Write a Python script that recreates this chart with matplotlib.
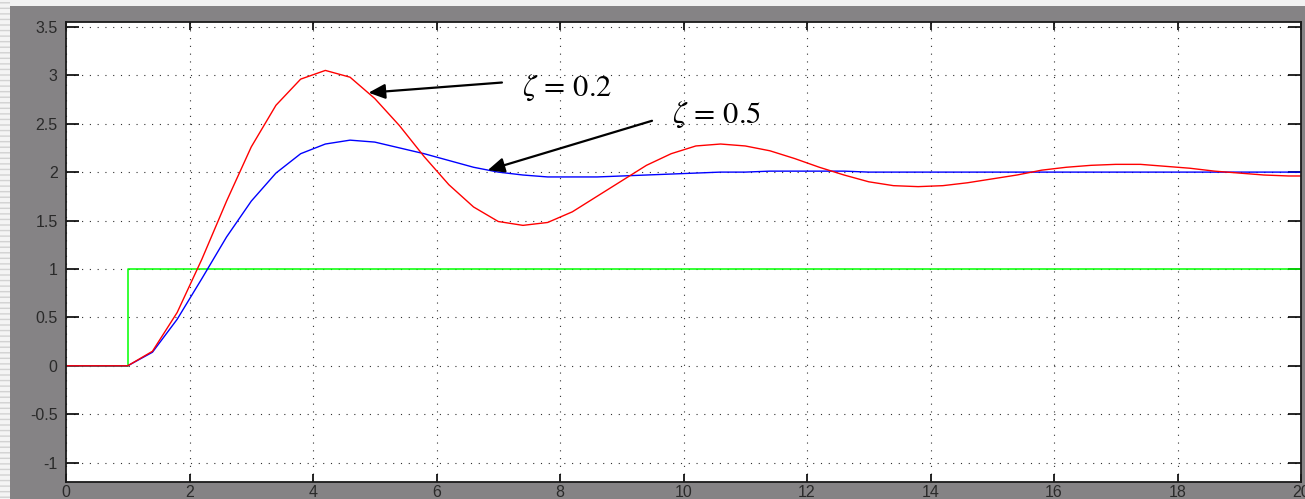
import matplotlib
matplotlib.use("Agg")
import matplotlib.pyplot as plt
from matplotlib.patches import Rectangle

# step input
step_t = [0.0, 1.0, 1.0, 20.0]
step_y = [0.0, 0.0, 1.0, 1.0]

# sample times of the two responses
t = [0.0, 1.0, 1.4, 1.8, 2.2, 2.6, 3.0, 3.4, 3.8, 4.2, 4.6, 5.0, 5.4, 5.8,
     6.2, 6.6, 7.0, 7.4, 7.8, 8.2, 8.6, 9.0, 9.4, 9.8, 10.2, 10.6, 11.0,
     11.4, 11.8, 12.2, 12.6, 13.0, 13.4, 13.8, 14.2, 14.6, 15.0, 15.4,
     15.8, 16.2, 16.6, 17.0, 17.4, 17.8, 18.2, 18.6, 19.0, 19.4, 19.8, 20.0]

# zeta = 0.2
y_02 = [0.0, 0.0, 0.15, 0.55, 1.10, 1.70, 2.26, 2.69, 2.96, 3.05, 2.98,
        2.76, 2.48, 2.16, 1.87, 1.64, 1.49, 1.45, 1.48, 1.59, 1.75, 1.91,
        2.07, 2.19, 2.27, 2.29, 2.27, 2.22, 2.14, 2.05, 1.97, 1.90, 1.86,
        1.85, 1.86, 1.89, 1.93, 1.97, 2.02, 2.05, 2.07, 2.08, 2.08, 2.06,
        2.04, 2.01, 1.99, 1.97, 1.96, 1.96]

# zeta = 0.5
y_05 = [0.0, 0.0, 0.14, 0.48, 0.90, 1.33, 1.70, 1.99, 2.19, 2.29, 2.33,
        2.31, 2.25, 2.19, 2.12, 2.05, 2.00, 1.97, 1.95, 1.95, 1.95, 1.96,
        1.97, 1.98, 1.99, 2.00, 2.00, 2.01, 2.01, 2.01, 2.01, 2.00, 2.00,
        2.00, 2.00, 2.00, 2.00, 2.00, 2.00, 2.00, 2.00, 2.00, 2.00, 2.00,
        2.00, 2.00, 2.00, 2.00, 2.00, 2.00]

xticks = [0, 2, 4, 6, 8, 10, 12, 14, 16, 18, 20]
yticks = [-1, -0.5, 0, 0.5, 1, 1.5, 2, 2.5, 3, 3.5]
ytick_labels = ["-1", "-0.5", "0", "0.5", "1", "1.5", "2", "2.5", "3", "3.5"]

plt.rcParams["mathtext.fontset"] = "stix"
plt.rcParams["font.family"] = ["Liberation Sans", "DejaVu Sans"]

fig = plt.figure(figsize=(13.05, 4.99), dpi=100, facecolor="#858385")
# light window strips at top and left
fig.patches.append(Rectangle((0, 1 - 6 / 499), 1, 6 / 499, transform=fig.transFigure,
                             facecolor="#f2f2f2", edgecolor="none", zorder=0))
fig.patches.append(Rectangle((0, 0), 10 / 1305, 1, transform=fig.transFigure,
                             facecolor="#f4f4f4", edgecolor="#d2d2d2", hatch="---",
                             linewidth=0, zorder=0))

ax = fig.add_axes([66 / 1305, 17 / 499, 1235 / 1305, 460 / 499])
ax.set_facecolor("white")

ax.plot(step_t, step_y, color="#00ff00", lw=1.1)
ax.plot(t, y_05, color="#0000ff", lw=1.0)
ax.plot(t, y_02, color="#ff0000", lw=1.0)

ax.set_xlim(0, 20)
ax.set_ylim(-1.2, 3.55)
ax.set_xticks(xticks)
ax.set_yticks(yticks)
ax.set_yticklabels(ytick_labels)
ax.grid(True, color="#303030", linestyle=(0, (1, 6)), linewidth=0.8)

ax.tick_params(axis="y", direction="in", length=9.5, width=1.2, left=True, right=True,
               labelsize=11.5, labelcolor="#2a2a2a", pad=6)
ax.tick_params(axis="x", direction="in", length=5.5, width=1.2, top=True, bottom=True,
               labelsize=11.5, labelcolor="#2a2a2a", pad=2)
for s in ax.spines.values():
    s.set_color("#1a1a1a")
    s.set_linewidth(1.3)

arrow = dict(arrowstyle="-|>,head_length=1.0,head_width=0.45", color="black",
             lw=1.6, shrinkA=0, shrinkB=0)
ax.annotate("", xy=(4.90, 2.82), xytext=(7.06, 2.925), arrowprops=arrow)
ax.annotate("", xy=(6.83, 2.02), xytext=(9.49, 2.53), arrowprops=arrow)
ax.text(7.39, 2.87, r"$\zeta\,=\,0.2$", fontsize=22, ha="left", va="center")
ax.text(9.82, 2.59, r"$\zeta\,=\,0.5$", fontsize=22, ha="left", va="center")

fig.savefig("out.png", dpi=100, facecolor=fig.get_facecolor())
